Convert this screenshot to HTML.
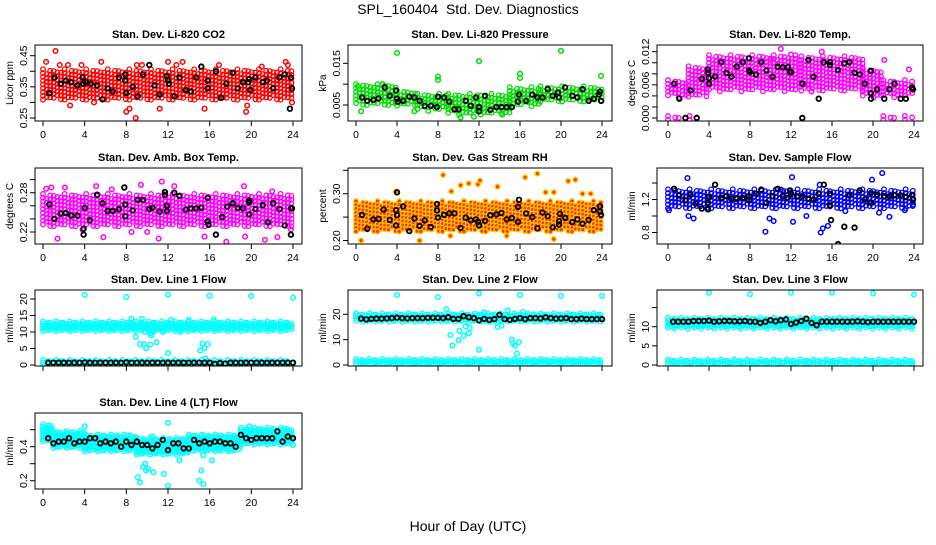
<!DOCTYPE html>
<html><head><meta charset="utf-8"><style>
html,body{margin:0;padding:0;background:#fff;}
svg text{font-family:"Liberation Sans",Arial,sans-serif;}
</style></head><body>
<svg id="chart" width="936" height="540" viewBox="0 0 936 540" xmlns="http://www.w3.org/2000/svg">
<rect x="0" y="0" width="936" height="540" fill="#fff"/>
<text x="468" y="14" font-size="14" text-anchor="middle" xml:space="preserve">SPL_160404  Std. Dev. Diagnostics</text>
<text x="468" y="531" font-size="14" text-anchor="middle">Hour of Day (UTC)</text>
</svg>
<script>
// ---- data ----
var hourTicks = [0,4,8,12,16,20,24];
// band segments: [startHour, endHour, low, high]
var co2Bands = [[0,24,0.31,0.40]];
var co2Outliers = [[0.3,.43],[1.2,.465],[1.6,.42],[2.4,.42],[3.7,.42],[5.6,.43],[8,.27],[8.3,.28],[8.9,.25],[9.0,.42],[11.2,.28],[12,.43],[12.8,.42],[13.4,.43],[15.5,.28],[16.9,.42],[19.5,.27],[19.6,.29],[21,.415],[23.3,.43],[23.5,.42],[23.9,.30],[4.9,.30],[9.5,.42],[2.6,.29]];
var co2Black = [[0.6,.33],[1.1,.38],[1.7,.36],[2.2,.37],[2.7,.365],[3.3,.355],[3.8,.38],[3.9,.36],[4.1,.365],[4.6,.36],[5.2,.355],[5.7,.31],[6.2,.345],[6.7,.335],[7.3,.38],[7.9,.37],[7.9,.39],[8,.33],[8.6,.35],[9.1,.32],[9.6,.39],[10.2,.42],[10.7,.355],[11.2,.325],[11.9,.385],[12,.37],[12.1,.36],[12.6,.32],[13.1,.38],[13.7,.34],[14.2,.335],[14.7,.38],[15.2,.415],[15.8,.37],[15.8,.345],[16.6,.40],[17.1,.315],[17.6,.36],[18.2,.395],[18.7,.345],[19.2,.365],[19.7,.365],[19.8,.375],[19.9,.34],[20.4,.38],[21.1,.365],[21.5,.37],[22.1,.345],[22.7,.38],[23.2,.39],[23.8,.38],[23.9,.345],[23.7,.28]];

var presBands = [[0,4,0.005,0.0095],[4,6,0.005,0.008],[6,9,0.004,0.0072],[9,15,0.003,0.0072],[15,18,0.005,0.0088],[18,24,0.006,0.009]];
var presOutliers = [[4,0.0175],[20,0.018],[12,0.0155],[8,0.0118],[8,0.011],[16,0.0125],[16,0.0115],[23.9,0.012],[0.2,0.0095],[2.6,0.01],[0.5,0.0035],[5.7,0.0035],[11.5,0.0022],[10.2,0.002],[14.2,0.003]];
var presBlack = [[0.6,.0068],[1.1,.006],[1.7,.0062],[2.2,.0066],[2.8,.0092],[3.3,.0072],[3.9,.0085],[4,.0065],[4.1,.0058],[4.6,.006],[5.2,.007],[5.7,.0068],[6.2,.006],[6.7,.0048],[7.3,.0048],[7.9,.0045],[8,.007],[8.6,.0068],[9.1,.0058],[9.6,.004],[10,.004],[10.7,.006],[11.2,.0048],[11.7,.0068],[12,.0045],[12,.0035],[12.6,.0072],[13.1,.0038],[13.7,.0045],[14.2,.0045],[14.7,.0045],[15.2,.0045],[15.8,.0058],[15.9,.0075],[16.6,.006],[17.2,.0075],[17.7,.0068],[18.2,.0068],[18.7,.0088],[19.2,.0072],[19.7,.008],[19.8,.0068],[20.4,.0092],[21.1,.0072],[21.6,.0068],[22.1,.0088],[22.7,.006],[23.2,.0065],[23.7,.0075],[23.8,.0082],[23.9,.006]];

var tempBands = [[0,2,0.004,0.0065],[2,4,0.004,0.009],[4,13,0.005,0.011],[13,19,0.005,0.0108],[19,21,0.004,0.0085],[21,24,0.004,0.0065],[0,3,0,0],[21,24,0,0]];
var tempOutliers = [[11,0.0125],[15,0.012],[12,0.0115],[14,0.0048],[13.6,0.006],[23.5,0.0088],[21.1,0.0105],[10.1,0.0105]];
var tempBlack = [[0.6,.0062],[1.1,.0035],[1.7,0],[2.2,.005],[2.8,0],[3.3,.0071],[3.9,.0088],[3.9,.0082],[4,.0072],[4,.0062],[4.6,.0075],[5.2,.0101],[5.7,.0082],[6.2,.0075],[6.7,.0093],[7.3,.0101],[7.9,.0108],[7.9,.0086],[8,.0083],[8.6,.0079],[9.1,.0101],[9.6,.0086],[10.2,.0075],[10.7,.0093],[11.2,.0092],[11.7,.0092],[11.9,.0083],[12,.0083],[13.1,.0062],[13.1,0],[13.7,.0105],[14.2,.0075],[14.7,.0035],[15.2,.0101],[15.8,.0101],[15.8,.0096],[16.6,.0087],[17.2,.0099],[17.7,.0101],[18.2,.0082],[18.7,.0079],[19.2,.0062],[19.8,.0085],[19.8,.0045],[19.8,.0035],[20.4,.0052],[21.1,.0035],[21.6,.0052],[22.1,.0062],[22.7,.0035],[23.2,.0035],[23.8,.0055],[23.9,.0052]];

var ambBands = [[0,24,0.23,0.275]];
var ambOutliers = [[0.3,0.286],[0.8,0.288],[1.4,0.21],[3.8,0.223],[5.1,0.29],[6.6,0.285],[9.4,0.292],[11.4,0.297],[12.6,0.29],[11.1,0.21],[15.5,0.213],[17.6,0.205],[19.3,0.29],[19.4,0.213],[21.3,0.208],[22,0.282],[22.5,0.212],[23.8,0.224],[5.8,0.212],[8.5,0.22],[10,0.22],[2.1,0.288]];
var ambBlack = [[0.6,.262],[1.1,.24],[1.7,.248],[2.2,.249],[2.7,.245],[3.3,.245],[3.9,.225],[3.9,.216],[4,.257],[4.5,.238],[5.2,.277],[5.7,.264],[6.2,.252],[6.7,.252],[7.3,.255],[7.8,.288],[7.9,.262],[7.9,.244],[8.6,.253],[9.1,.269],[9.6,.269],[10.2,.255],[10.5,.257],[11.2,.251],[11.7,.277],[11.7,.281],[11.9,.26],[11.9,.252],[12.6,.28],[13.1,.275],[13.7,.254],[14.2,.256],[14.7,.256],[15.2,.257],[15.8,.272],[15.8,.236],[15.9,.231],[16.6,.216],[17.2,.243],[17.7,.259],[18.2,.264],[18.7,.257],[19.2,.256],[19.8,.268],[19.8,.265],[19.8,.247],[20.4,.255],[21.1,.261],[21.6,.235],[22.1,.264],[22.7,.255],[23.2,.23],[23.8,.256],[23.9,.256],[23.8,.216]];

var rhBands = [[0,24,0.22,0.28]];
var rhOutliers = [[0.5,0.2],[3.9,0.305],[6.2,0.2],[8.5,0.34],[9.3,0.305],[10.2,0.318],[11,0.322],[11.9,0.32],[12.1,0.328],[13.8,0.315],[16.5,0.335],[17.7,0.343],[18.5,0.303],[19.3,0.303],[19.3,0.203],[20.7,0.327],[21.4,0.33],[22.1,0.3],[22.9,0.3],[9.2,0.21],[14.7,0.21]];
var rhBlack = [[0.6,.255],[1.1,.225],[1.7,.245],[2.2,.246],[2.7,.266],[3.3,.244],[3.9,.265],[3.9,.232],[4,.303],[4,.254],[4.6,.273],[5.2,.22],[5.7,.247],[6.2,.231],[6.7,.243],[7.3,.229],[7.9,.278],[7.9,.264],[8,.249],[8.6,.255],[9.1,.258],[9.6,.258],[10.2,.227],[10.7,.249],[11.2,.243],[11.7,.245],[11.9,.24],[12,.232],[12.6,.242],[13.1,.254],[13.7,.256],[14.2,.259],[14.7,.245],[15.2,.248],[15.8,.272],[15.8,.24],[15.9,.287],[16.6,.258],[17.2,.25],[17.7,.226],[18.2,.26],[18.7,.252],[19.2,.228],[19.8,.234],[19.8,.241],[19.9,.257],[20.4,.248],[21.1,.239],[21.6,.245],[22.1,.236],[22.7,.244],[23.2,.265],[23.8,.273],[23.8,.262],[23.9,.255]];

var sfBands = [[0,24,1.1,1.3]];
var sfOutliers = [[0.1,1.07],[1.9,1.46],[2,1.0],[2.5,0.97],[9.5,0.81],[9.9,0.97],[10.3,0.94],[12.1,1.47],[12.2,0.93],[13.5,1.0],[14.9,0.8],[15.1,0.85],[15.6,0.88],[17.3,1.06],[19.9,1.44],[20.9,1.52],[20.6,1.04],[21.6,0.99],[23.1,1.07],[23.9,1.14],[14.8,1.38],[11,1.32]];
var sfBlack = [[0.6,1.33],[1.1,1.25],[1.7,1.19],[2.2,1.26],[2.7,1.15],[3.3,1.09],[3.9,1.08],[3.9,1.16],[4,1.23],[4.6,1.38],[5.2,1.22],[5.7,1.24],[6.2,1.21],[6.7,1.21],[7.3,1.22],[7.9,1.24],[7.9,1.19],[8.6,1.27],[9.1,1.32],[9.6,1.16],[10.2,1.24],[10.7,1.33],[11.2,1.24],[11.7,1.22],[11.9,1.31],[12,1.27],[12.6,1.24],[13.1,1.24],[13.7,1.21],[14.2,1.2],[14.7,1.27],[15.2,1.38],[15.8,1.27],[15.8,1.13],[15.9,0.95],[16.6,0.66],[17.2,0.87],[17.7,1.25],[18.2,0.86],[18.7,1.31],[19.2,1.2],[19.8,1.28],[19.8,1.16],[20.4,1.26],[21.1,1.24],[21.6,1.24],[22.1,1.25],[22.7,1.25],[23.2,1.23],[23.8,1.25],[23.9,1.2]];

var l1Bands = [[0,24,10.6,12.6],[0,24,0.3,0.9]];
var l1Outliers = [[4,21.2],[8,20.6],[12,21.3],[16,21],[20,20.9],[24,20.4],[8.5,14],[9.5,14],[10,12],[9.8,10],[10.3,9.6],[10.7,10.3],[8.9,8.5],[9.3,6.3],[9.7,6.3],[10.3,6.2],[9.9,5.1],[10.4,9],[10.9,6.9],[9.6,1],[11.5,10],[12.3,13.7],[12,3.6],[13.2,10],[14,13.7],[14.5,11],[15.1,4.4],[15.3,6.5],[15.5,5.1],[15.8,6.3],[15.6,2],[16.4,13.8]];
var l1Hours = [0.5,1,1.5,2,2.5,3,3.5,4,4.5,5,5.5,6,6.5,7,7.5,8,8.5,9,9.5,10,10.5,11,11.5,12,12.5,13,13.5,14,14.5,15,15.5,16,16.5,17,17.5,18,18.5,19,19.5,20,20.5,21,21.5,22,22.5,23,23.5,24];
var l1Black = [0.7,0.7,0.7,0.7,0.7,0.7,0.7,0.8,0.7,0.7,0.7,0.7,0.7,0.7,0.7,0.8,0.7,0.7,0.7,0.7,0.7,0.7,0.7,0.7,0.7,0.7,0.7,0.7,0.7,0.7,0.7,0.7,0.3,0.6,0.4,0.7,0.7,0.7,0.7,0.7,0.7,0.7,0.7,0.7,0.7,0.7,0.7,0.7];

var l2Bands = [[0,24,17.6,19.6],[0,24,0.4,1.6]];
var l2Outliers = [[4,27.6],[8,26.8],[12,28.3],[16,27.6],[20,27.3],[24,27.3],[8.8,22],[9.2,11.8],[9.4,7.7],[10,9.8],[10.1,13.5],[10.7,15.2],[11,12.5],[10.5,11.5],[11.1,14.6],[12,6],[12.5,20.8],[13,17],[13.5,18],[13.8,15],[14.2,15.5],[15.2,10],[15.3,8.5],[15.5,7.7],[15.7,4.5],[15.9,9],[14.8,21.5],[16.3,21]];
var l2Black = [18.3,18,18.2,18.3,18.3,18.4,18.5,18.7,18.5,18.4,18.5,18.5,18.5,18.6,18.6,18.6,18.5,18.8,18.2,18.2,19.3,18.8,18.5,17.6,18.2,17.8,18.1,19.8,18.1,17.8,18.2,18.5,18.1,18.5,18.5,18.4,18.8,18.5,18.3,18.4,18.5,18.1,18.1,18.3,18.1,18.1,18.1,18.1];

var l3Bands = [[0,24,10,11.8],[0,24,0.3,0.9]];
var l3Outliers = [[4,18.9],[8,18.5],[12,18.9],[16,18.9],[20,18.7],[24,18.4]];
var l3Black = [11.3,11.3,11.3,11.3,11.5,11.5,11.5,11.6,11.3,11.4,11.5,11.5,11.4,11.4,11.5,11.3,11.3,11,11.3,11.7,11.4,11.7,11.9,10.7,11.1,11.5,12.1,11,10.4,11.3,11.3,11.3,11.3,11.3,11.3,11.3,11.4,11.3,11.2,11.3,11.3,11.3,11.3,11.3,11.3,11.3,11.3,11.3];

var l4Bands = [[0,1,0.44,0.52],[1,4,0.40,0.48],[4,9,0.38,0.46],[9,14,0.36,0.44],[14,19,0.38,0.46],[19,24,0.42,0.50]];
var l4Outliers = [[4,0.52],[9.1,0.22],[9.3,0.19],[9.6,0.28],[9.8,0.3],[9.9,0.26],[10.1,0.27],[10.6,0.25],[11.6,0.24],[12,0.54],[12,0.17],[13.1,0.32],[15,0.2],[15.2,0.26],[15.4,0.18],[15.4,0.35],[16.2,0.32],[19.8,0.52],[24,0.41],[10.5,0.46]];
var l4Black = [0.45,0.42,0.43,0.43,0.45,0.42,0.43,0.43,0.45,0.45,0.42,0.43,0.42,0.43,0.4,0.43,0.41,0.43,0.41,0.41,0.39,0.41,0.44,0.38,0.42,0.42,0.39,0.39,0.44,0.42,0.43,0.42,0.43,0.43,0.42,0.42,0.4,0.47,0.45,0.44,0.45,0.45,0.45,0.45,0.49,0.43,0.46,0.45];

// ---- layout ----
var svg = document.getElementById('chart');
var NS = 'http://www.w3.org/2000/svg';
var cols = [{l:35,r:302,x0:43,x1:293},{l:348,r:612,x0:356,x1:602},{l:657,r:923,x0:668,x1:914}];
var rowTops = [45,168,290,413];
var BOXH = 76;

function mk(tag, attrs, parent){
  var e = document.createElementNS(NS, tag);
  for (var k in attrs) e.setAttribute(k, attrs[k]);
  (parent||svg).appendChild(e);
  return e;
}

function panel(p){
  var c = cols[p.col], top = rowTops[p.row];
  var g = mk('g', {});
  
  
  function X(h){ return c.x0 + (c.x1 - c.x0) * h / 24; }
  var k = (p.p2 - p.p1) / (p.v2 - p.v1);
  function Y(v){ return top + p.p1 + (v - p.v1) * k; }
  var bottom = top + BOXH;
  var cid = 'clip-' + p.name;
  var cp = mk('clipPath', {id: cid}, g);
  mk('rect', {x: c.l, y: top, width: c.r - c.l, height: BOXH}, cp);
  var pts = mk('g', {'clip-path': 'url(#' + cid + ')'}, g);
  
  
  function dotPx(x, y, col, sw, fill){
    mk('circle', {cx: x.toFixed(1), cy: y.toFixed(1), r: 2.3, fill: fill || 'none', stroke: col, 'stroke-width': sw}, pts);
  }
  function dot(h, v, col, sw){
    dotPx(X(h), Y(v), col, sw || 1.5, (p.fill && col !== '#000') ? p.fill : 'none');
  }
  var xs = p.dense ? 2.2 : 3.6, ys = p.dense ? 2.4 : 3.8;
  p.bands.forEach(function(b){
    var yHi = Y(b[3]), yLo = Y(b[2]);
    var x0 = X(b[0]), x1 = X(b[1]);
    var col = 0;
    for (var x = x0; x <= x1 + 0.01; x += xs, col++){
      var off = (col % 2) ? ys / 2 : 0;
      var ext = (col % 3 === 0) ? 2 : (col % 3 === 1 ? -1 : 0.5);
      for (var y = yHi - ext + off; y <= yLo + ext + 0.01; y += ys){
        dotPx(x, y, p.color, 1.3, p.fill || 'none');
      }
    }
  });
  p.outliers.forEach(function(o){ dot(o[0], o[1], p.color); });
  if (p.blackHours){
    p.blackHours.forEach(function(h, i){ dot(h, p.black[i], '#000', 1.8); });
  } else {
    p.black.forEach(function(o){ dot(o[0], o[1], '#000', 1.8); });
  }
  var box = mk('rect', {x: c.l, y: top, width: c.r - c.l, height: BOXH, fill: 'none', stroke: '#000', 'stroke-width': 1}, g);
  
  
  var t = mk('text', {x: (c.l + c.r) / 2, y: top - 7, 'font-size': 11, 'font-weight': 'bold', 'text-anchor': 'middle'}, g);
  t.textContent = p.title;
  
  
  var xa = mk('g', {}, g);
  
  
  mk('line', {x1: X(0), x2: X(24), y1: bottom, y2: bottom, stroke: '#000'}, xa);
  hourTicks.forEach(function(h){
    mk('line', {x1: X(h), x2: X(h), y1: bottom, y2: bottom + 5, stroke: '#000'}, xa);
    if (p.xlabels){
      var tl = mk('text', {x: X(h), y: bottom + 17, 'font-size': 10.5, 'text-anchor': 'middle'}, xa);
      tl.textContent = h;
      
      
    }
  });
  var ya = mk('g', {}, g);
  
  
  var yt = p.yticks;
  mk('line', {x1: c.l, x2: c.l, y1: Y(yt[0]), y2: Y(yt[yt.length - 1]), stroke: '#000'}, ya);
  yt.forEach(function(v, i){
    var y = Y(v);
    mk('line', {x1: c.l - 5, x2: c.l, y1: y, y2: y, stroke: '#000'}, ya);
    if (p.ylabels[i]){
      var tl = mk('text', {x: 0, y: 0, 'font-size': 10.5, 'text-anchor': 'middle', transform: 'translate(' + (c.l - 8) + ',' + y + ') rotate(-90)'}, ya);
      tl.textContent = p.ylabels[i];
      
      
    }
  });
  var yl = mk('text', {x: 0, y: 0, 'font-size': 10, 'text-anchor': 'middle', transform: 'translate(' + (c.l - 22) + ',' + (top + BOXH / 2) + ') rotate(-90)'}, ya);
  yl.textContent = p.ylab;
  
  
}

panel({name:'co2', col:0,row:0,title:'Stan. Dev. Li-820 CO2',ylab:'Licor ppm',color:'#ff0000',v1:0.25,p1:73,v2:0.45,p2:10.7,yticks:[0.25,0.30,0.35,0.40,0.45],ylabels:['0.25','','0.35','','0.45'],bands:co2Bands,outliers:co2Outliers,black:co2Black,xlabels:true});
panel({name:'pressure', col:1,row:0,title:'Stan. Dev. Li-820 Pressure',ylab:'kPa',color:'#00dd00',v1:0.005,p1:60,v2:0.015,p2:18.3,yticks:[0.005,0.010,0.015],ylabels:['0.005','','0.015'],bands:presBands,outliers:presOutliers,black:presBlack,xlabels:true});
panel({name:'li820-temp', col:2,row:0,title:'Stan. Dev. Li-820 Temp.',ylab:'degrees C',color:'#ff00ff',v1:0,p1:73,v2:0.012,p2:6.7,yticks:[0,0.002,0.004,0.006,0.008,0.010,0.012],ylabels:['0.000','','','0.006','','','0.012'],bands:tempBands,outliers:tempOutliers,black:tempBlack,xlabels:true});
panel({name:'amb-box-temp', col:0,row:1,title:'Stan. Dev. Amb. Box Temp.',ylab:'degrees C',color:'#ff00ff',v1:0.22,p1:64,v2:0.28,p2:24.7,yticks:[0.22,0.24,0.26,0.28,0.30],ylabels:['0.22','','','0.28',''],bands:ambBands,outliers:ambOutliers,black:ambBlack,xlabels:true});
panel({name:'gas-stream-rh', col:1,row:1,title:'Stan. Dev. Gas Stream RH',ylab:'percent',color:'#ffcc00',fill:'#ff3300',v1:0.20,p1:72.5,v2:0.30,p2:25.7,yticks:[0.20,0.25,0.30,0.35],ylabels:['0.20','','0.30',''],bands:rhBands,outliers:rhOutliers,black:rhBlack,xlabels:true});
panel({name:'sample-flow', col:2,row:1,title:'Stan. Dev. Sample Flow',ylab:'ml/min',color:'#0000ff',v1:0.8,p1:64.5,v2:1.2,p2:31.5,yticks:[0.8,1.0,1.2,1.4],ylabels:['0.8','','1.2',''],bands:sfBands,outliers:sfOutliers,black:sfBlack,xlabels:true});
panel({name:'line1-flow', col:0,row:2,title:'Stan. Dev. Line 1 Flow',ylab:'ml/min',color:'#00ffff',dense:true,v1:0,p1:75,v2:20,p2:9,yticks:[0,5,10,15,20],ylabels:['0','5','10','15','20'],bands:l1Bands,outliers:l1Outliers,black:l1Black,blackHours:l1Hours,xlabels:false});
panel({name:'line2-flow', col:1,row:2,title:'Stan. Dev. Line 2 Flow',ylab:'ml/min',color:'#00ffff',dense:true,v1:0,p1:75,v2:20,p2:24.3,yticks:[0,10,20],ylabels:['0','10','20'],bands:l2Bands,outliers:l2Outliers,black:l2Black,blackHours:l1Hours,xlabels:false});
panel({name:'line3-flow', col:2,row:2,title:'Stan. Dev. Line 3 Flow',ylab:'ml/min',color:'#00ffff',dense:true,v1:0,p1:75,v2:10,p2:36.7,yticks:[0,5,10,15],ylabels:['0','5','10',''],bands:l3Bands,outliers:l3Outliers,black:l3Black,blackHours:l1Hours,xlabels:false});
panel({name:'line4-flow', col:0,row:3,title:'Stan. Dev. Line 4 (LT) Flow',ylab:'ml/min',color:'#00ffff',dense:true,v1:0.2,p1:67.7,v2:0.4,p2:33.7,yticks:[0.2,0.3,0.4,0.5],ylabels:['0.2','','0.4',''],bands:l4Bands,outliers:l4Outliers,black:l4Black,blackHours:l1Hours,xlabels:true});
</script>
</body></html>
